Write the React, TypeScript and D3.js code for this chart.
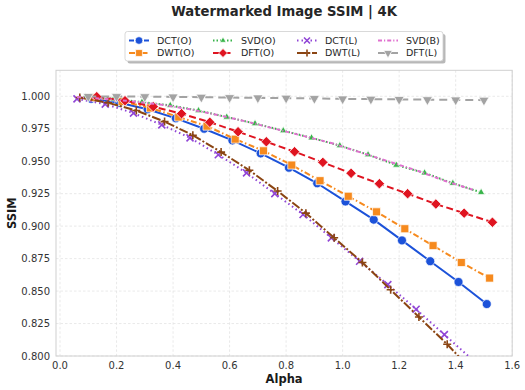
import * as d3 from 'd3';

// alpha / ssim per method
const alphaDCTO = [0.11, 0.21, 0.31, 0.41, 0.51, 0.61, 0.71, 0.81, 0.91, 1.01, 1.11, 1.21, 1.31, 1.41, 1.51];
const ssimDCTO = [0.998, 0.995, 0.99, 0.983, 0.975, 0.966, 0.956, 0.945, 0.933, 0.919, 0.905, 0.889, 0.873, 0.857, 0.84];

const alphaDWTO = [0.12, 0.22, 0.32, 0.42, 0.52, 0.62, 0.72, 0.82, 0.92, 1.02, 1.12, 1.22, 1.32, 1.42, 1.52];
const ssimDWTO = [0.999, 0.996, 0.991, 0.984, 0.977, 0.967, 0.958, 0.947, 0.935, 0.923, 0.911, 0.898, 0.885, 0.872, 0.86];

const alphaSVDO = [0.09, 0.19, 0.29, 0.39, 0.49, 0.59, 0.69, 0.79, 0.89, 0.99, 1.09, 1.19, 1.29, 1.39, 1.49];
const ssimSVDO = [0.9995, 0.998, 0.9955, 0.993, 0.989, 0.984, 0.979, 0.9735, 0.968, 0.962, 0.955, 0.947, 0.941, 0.933, 0.926];

const alphaDFTO = [0.13, 0.23, 0.33, 0.43, 0.53, 0.63, 0.73, 0.83, 0.93, 1.03, 1.13, 1.23, 1.33, 1.43, 1.53];
const ssimDFTO = [0.9997, 0.9966, 0.992, 0.9866, 0.98, 0.9727, 0.965, 0.9573, 0.9491, 0.9407, 0.9327, 0.925, 0.917, 0.91, 0.903];

const alphaDCTL = [0.06, 0.16, 0.26, 0.36, 0.46, 0.56, 0.66, 0.76, 0.86, 0.96, 1.06, 1.16, 1.26, 1.36, 1.46];
const ssimDCTL = [0.998, 0.994, 0.987, 0.978, 0.968, 0.955, 0.941, 0.925, 0.909, 0.891, 0.873, 0.855, 0.836, 0.8165, 0.797];

const alphaDWTL = [0.07, 0.17, 0.27, 0.37, 0.47, 0.57, 0.67, 0.77, 0.87, 0.97, 1.07, 1.17, 1.27, 1.37, 1.47];
const ssimDWTL = [0.999, 0.995, 0.989, 0.9805, 0.97, 0.957, 0.943, 0.927, 0.91, 0.891, 0.872, 0.851, 0.83, 0.809, 0.786];

const alphaSVDB = [0.06, 0.16, 0.26, 0.36, 0.46, 0.56, 0.66, 0.76, 0.86, 0.96, 1.06, 1.16, 1.26, 1.36, 1.46];
const ssimSVDB = [0.9995, 0.998, 0.996, 0.9935, 0.99, 0.9855, 0.9805, 0.975, 0.9695, 0.964, 0.957, 0.95, 0.943, 0.935, 0.928];

const alphaDFTL = [0.1, 0.2, 0.3, 0.4, 0.5, 0.6, 0.7, 0.8, 0.9, 1.0, 1.1, 1.2, 1.3, 1.4, 1.5];
const ssimDFTL = [0.9999, 0.9998, 0.9997, 0.9995, 0.9993, 0.999, 0.9988, 0.9986, 0.9983, 0.998, 0.9978, 0.9976, 0.9974, 0.9972, 0.997];

const xTicks = [0, 0.2, 0.4, 0.6, 0.8, 1.0, 1.2, 1.4, 1.6];
const yTicks = [0.8, 0.825, 0.85, 0.875, 0.9, 0.925, 0.95, 0.975, 1.0];

type Series = {
  name: string;
  xs: number[];
  ys: number[];
  color: string;
  dash: string;
  marker: string;
  size: number;
  width: number;
};

const series: Series[] = [
  { name: 'DCT(O)', xs: alphaDCTO, ys: ssimDCTO, color: '#1c52d9', dash: '', marker: 'o', size: 9, width: 2 },
  { name: 'DWT(O)', xs: alphaDWTO, ys: ssimDWTO, color: '#f68a1e', dash: '6,2.5,1.5,2.5', marker: 's', size: 8, width: 2 },
  { name: 'SVD(O)', xs: alphaSVDO, ys: ssimSVDO, color: '#38b44a', dash: '1.5,2', marker: '^', size: 5, width: 2 },
  { name: 'DFT(O)', xs: alphaDFTO, ys: ssimDFTO, color: '#df1420', dash: '7,3.5', marker: 'D', size: 8, width: 2 },
  { name: 'DCT(L)', xs: alphaDCTL, ys: ssimDCTL, color: '#9146d6', dash: '1.5,3', marker: 'x', size: 7, width: 2 },
  { name: 'DWT(L)', xs: alphaDWTL, ys: ssimDWTL, color: '#8b4513', dash: '9,2,2,2', marker: '+', size: 8, width: 2 },
  { name: 'SVD(B)', xs: alphaSVDB, ys: ssimSVDB, color: '#e070cf', dash: '4,2,1.2,2', marker: '', size: 0, width: 2 },
  { name: 'DFT(L)', xs: alphaDFTL, ys: ssimDFTL, color: '#a3a3a3', dash: '8,5', marker: 'v', size: 7, width: 2 },
];

const W = 525;
const H = 390;
const plot = { left: 56, right: 512.2, top: 70.3, bottom: 356 };
const FONT = 'DejaVu Sans, sans-serif';

function markerPath(kind: string, s: number): string {
  const h = s / 2;
  switch (kind) {
    case 'o':
      return d3.symbol(d3.symbolCircle, (Math.PI * s * s) / 4)() || '';
    case 's':
      return d3.symbol(d3.symbolSquare, s * s)() || '';
    case 'D':
      return d3.symbol(d3.symbolSquare, s * s * 0.85)() || '';
    case '^':
    case 'v':
      return d3.symbol(d3.symbolTriangle, s * s * 0.9)() || '';
    case 'x':
      return `M${-h},${-h}L${h},${h}M${-h},${h}L${h},${-h}`;
    case '+':
      return `M${-h},0L${h},0M0,${-h}L0,${h}`;
    default:
      return '';
  }
}

function Marker({ s, x, y }: { s: Series; x: number; y: number }) {
  if (!s.marker) return null;
  const rot = s.marker === 'D' ? 45 : s.marker === 'v' ? 180 : 0;
  const stroked = s.marker === 'x' || s.marker === '+';
  return (
    <path
      d={markerPath(s.marker, s.size)}
      transform={`translate(${x},${y}) rotate(${rot})`}
      fill={stroked ? 'none' : s.color}
      stroke={stroked ? s.color : '#ffffff'}
      strokeWidth={stroked ? 1.6 : 0.7}
    />
  );
}

export default function App() {
  const x = d3.scaleLinear().domain([-0.0142, 1.6]).range([plot.left, plot.right]);
  const y = d3.scaleLinear().domain([0.8, 1.02]).range([plot.bottom, plot.top]);
  const line = d3.line<[number, number]>().x((d) => x(d[0])).y((d) => y(d[1]));

  // legend layout: 4 columns x 2 rows, filled column by column
  const legCols = [129, 213, 297, 378];
  const legRows = [40.5, 53];

  return (
    <svg width={W} height={H} style={{ position: 'absolute', left: 0, top: 0, background: '#fff' }} fontFamily={FONT}>
      <defs>
        <clipPath id="plot-clip">
          <rect x={plot.left} y={plot.top} width={plot.right - plot.left} height={plot.bottom - plot.top} />
        </clipPath>
      </defs>

      <text x={(plot.left + plot.right) / 2} y={15.5} textAnchor="middle" fontSize={13.2} fontWeight="bold" fill="#262626">
        Watermarked Image SSIM | 4K
      </text>

      {/* grid */}
      <g stroke="#e3e3e3" strokeWidth={0.8} strokeDasharray="2.5,2">
        {xTicks.map((t) => (
          <line key={'gx' + t} x1={x(t)} x2={x(t)} y1={plot.top} y2={plot.bottom} />
        ))}
        {yTicks.map((t) => (
          <line key={'gy' + t} x1={plot.left} x2={plot.right} y1={y(t)} y2={y(t)} />
        ))}
      </g>

      {/* frame */}
      <rect
        x={plot.left}
        y={plot.top}
        width={plot.right - plot.left}
        height={plot.bottom - plot.top}
        fill="none"
        stroke="#d0d0d0"
        strokeWidth={1}
      />

      {/* tick labels */}
      <g fontSize={10} fill="#333">
        {xTicks.map((t) => (
          <text key={'tx' + t} x={x(t)} y={plot.bottom + 12.5} textAnchor="middle">
            {d3.format('.1f')(t)}
          </text>
        ))}
        {yTicks.map((t) => (
          <text key={'ty' + t} x={plot.left - 6} y={y(t) + 3.6} textAnchor="end">
            {d3.format('.3f')(t)}
          </text>
        ))}
      </g>

      <text x={(plot.left + plot.right) / 2} y={383} textAnchor="middle" fontSize={11.5} fontWeight="bold" fill="#1a1a1a">
        Alpha
      </text>
      <text
        transform={`translate(16,${(plot.top + plot.bottom) / 2}) rotate(-90)`}
        textAnchor="middle"
        fontSize={11.5}
        fontWeight="bold"
        fill="#1a1a1a"
      >
        SSIM
      </text>

      {/* series */}
      <g clipPath="url(#plot-clip)">
        {series.map((s) => {
          const pts = s.xs.map((a, i) => [a, s.ys[i]] as [number, number]);
          return (
            <g key={s.name}>
              <path
                d={line(pts) || ''}
                fill="none"
                stroke={s.color}
                strokeWidth={s.width}
                strokeDasharray={s.dash || undefined}
                strokeLinejoin="round"
              />
              {pts.map((p, i) => (
                <Marker key={i} s={s} x={x(p[0])} y={y(p[1])} />
              ))}
            </g>
          );
        })}
      </g>

      {/* legend */}
      <g>
        <rect x={127.5} y={34} width={318} height={29.5} rx={2.5} fill="#000" opacity={0.28} />
        <rect x={125} y={31.5} width={318} height={29.5} rx={2.5} fill="#fff" stroke="#cfcfcf" strokeWidth={0.8} />
        {series.map((s, i) => {
          const cx = legCols[Math.floor(i / 2)];
          const cy = legRows[i % 2];
          return (
            <g key={'leg' + s.name}>
              <line
                x1={cx}
                x2={cx + 20}
                y1={cy}
                y2={cy}
                stroke={s.color}
                strokeWidth={2}
                strokeDasharray={s.dash || '5,2.5'}
              />
              <Marker s={{ ...s, size: s.size * 0.85 }} x={cx + 10} y={cy} />
              <text x={cx + 28} y={cy + 3.4} fontSize={9.5} fill="#262626">
                {s.name}
              </text>
            </g>
          );
        })}
      </g>
    </svg>
  );
}
